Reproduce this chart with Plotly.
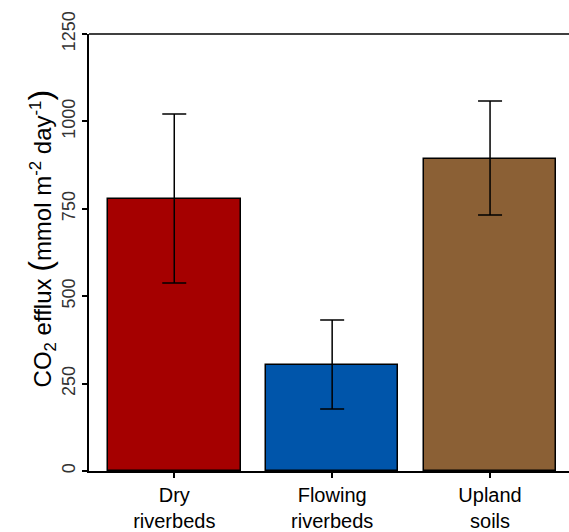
import plotly.graph_objects as go

categories = ["Dry<br>riverbeds", "Flowing<br>riverbeds", "Upland<br>soils"]
means = [778, 302, 892]
err_plus = [243, 130, 166]
err_minus = [240, 125, 160]
colors = ["#A50000", "#0055AA", "#8B6035"]
ytick_vals = [0, 250, 500, 750, 1000, 1250]
y_title = "CO<sub>2</sub> efflux <span style='font-size:32px'>(</span>mmol m<sup>-2</sup> day<sup>-1</sup><span style='font-size:32px'>)</span>"

fig = go.Figure()
fig.add_trace(go.Bar(
    x=[0, 1, 2], y=means, width=0.84,
    marker=dict(color=colors, line=dict(color="black", width=1.5)),
    error_y=dict(type="data", symmetric=False, array=err_plus, arrayminus=err_minus,
                 color="black", thickness=1.5, width=12),
))
fig.update_layout(
    width=569, height=532,
    margin=dict(l=89, r=0, t=34, b=61),
    paper_bgcolor="white", plot_bgcolor="white",
    font=dict(family="Liberation Sans, Arial, sans-serif", color="black"),
    showlegend=False, bargap=0,
    shapes=[dict(type="line", xref="paper", yref="paper", x0=0, x1=1.01, y0=1, y1=1,
                 line=dict(color="black", width=1.5))],
    annotations=[dict(text=y_title, textangle=-90, xref="paper", yref="paper",
                      x=-0.1, y=0.53, xanchor="center", yanchor="middle",
                      showarrow=False, font=dict(size=24, color="black"))],
)
fig.update_xaxes(
    range=[-0.54, 2.5], tickmode="array", tickvals=[0, 1, 2], ticktext=categories,
    showline=True, linecolor="black", linewidth=1.5, automargin=False,
    ticks="outside", ticklen=5, tickwidth=1.5, tickcolor="black", ticklabelstandoff=0,
    showgrid=False, zeroline=False, tickfont=dict(size=20, color="black"),
)
fig.update_yaxes(
    range=[0, 1250], tickvals=ytick_vals, tickangle=-90, automargin=False,
    showline=True, linecolor="black", linewidth=1.5,
    ticks="outside", ticklen=5, tickwidth=1.5, tickcolor="black",
    showgrid=False, zeroline=False, tickfont=dict(size=18, color="#333333"),
)
fig.write_html("out.html")
